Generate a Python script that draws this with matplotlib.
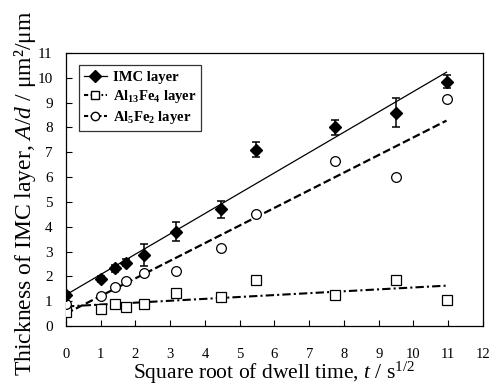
import matplotlib
matplotlib.use("Agg")
import matplotlib.pyplot as plt
import numpy as np
from matplotlib.lines import Line2D

plt.rcParams['font.family'] = 'Liberation Serif'
plt.rcParams['mathtext.fontset'] = 'custom'
plt.rcParams['mathtext.rm'] = 'Liberation Serif'
plt.rcParams['mathtext.it'] = 'Liberation Serif:italic'
plt.rcParams['mathtext.bf'] = 'Liberation Serif:bold'

# square root of dwell time, s^1/2
root_t = [0, 1, 1.41, 1.73, 2.24, 3.16, 4.47, 5.48, 7.75, 9.49, 10.95]
# thickness A/d, um^2/um
imc = [1.25, 1.88, 2.32, 2.55, 2.85, 3.8, 4.7, 7.1, 8.0, 8.6, 9.85]
imc_err = [0.12, 0.12, 0.15, 0.15, 0.45, 0.38, 0.35, 0.3, 0.3, 0.6, 0.25]
al13fe4 = [0.58, 0.7, 0.89, 0.75, 0.89, 1.32, 1.18, 1.85, 1.27, 1.85, 1.05]
al5fe2 = [0.89, 1.22, 1.58, 1.83, 2.15, 2.22, 3.16, 4.52, 6.65, 6.02, 9.14]

x = np.array(root_t)
xfit = np.array([x.min(), x.max()])

fig = plt.figure(figsize=(4.91, 3.9), dpi=100)
ax = fig.add_axes([0.1344, 0.164, 0.8493, 0.7])

# linear fits
p_imc = np.polyfit(x, imc, 1)
p_13 = np.polyfit(x, al13fe4, 1)
p_52 = np.polyfit(x, al5fe2, 1)
ax.plot(xfit, np.polyval(p_imc, xfit), color='black', lw=0.9, ls='-')
ax.plot(xfit, np.polyval(p_52, xfit), color='black', lw=1.6, ls=(0, (3.5, 1.5)))
ax.plot(xfit, np.polyval(p_13, xfit), color='black', lw=1.5, ls=(0, (4, 1.5, 1, 1.5)))

ax.errorbar(x, imc, yerr=imc_err, fmt='D', color='black', ms=6.5,
            ecolor='black', elinewidth=1.1, capsize=3, capthick=1.1, zorder=5)
ax.plot(x, al13fe4, ls='none', marker='s', ms=7, mfc='white', mec='black', mew=0.9, zorder=4)
ax.plot(x, al5fe2, ls='none', marker='o', ms=7, mfc='white', mec='black', mew=0.9, zorder=4)

ax.set_xlim(0, 12)
ax.set_ylim(0, 11)
ax.set_xticks(range(0, 13))
ax.set_yticks(range(0, 12))
ax.tick_params(direction='in', length=4, width=0.8)
ax.tick_params(axis='x', pad=16, labelsize=10.5)
ax.tick_params(axis='y', pad=9.5, labelsize=11)
for s in ax.spines.values():
    s.set_linewidth(0.9)

ax.set_xlabel('Square root of dwell time, $t$ / s$^{1/2}$', fontsize=15.5, labelpad=-1)
ax.set_ylabel('Thickness of IMC layer, $A/d$ / \u03bcm\u00b2/\u03bcm', fontsize=17)
ax.yaxis.set_label_coords(-0.066, 0.485)

handles = [
    Line2D([], [], color='black', lw=0.9, marker='D', ms=6),
    Line2D([], [], color='black', lw=1.5, ls=(0, (2, 1.2, 0.8, 1.2)), marker='s', ms=6, mfc='white'),
    Line2D([], [], color='black', lw=1.5, ls=(0, (2, 1.2)), marker='o', ms=6, mfc='white'),
]
labels = ['IMC layer', r'Al$_\mathbf{13}$Fe$_\mathbf{4}$ layer', r'Al$_\mathbf{5}$Fe$_\mathbf{2}$ layer']
leg = ax.legend(handles, labels, loc='upper left', bbox_to_anchor=(0.03, 0.955),
                prop={'weight': 'bold', 'size': 10.5}, frameon=True, fancybox=False,
                edgecolor='black', handlelength=1.6, handletextpad=0.4,
                borderpad=0.35, labelspacing=0.3, borderaxespad=0)
leg.get_frame().set_linewidth(0.9)

fig.savefig('out.png', dpi=100)
